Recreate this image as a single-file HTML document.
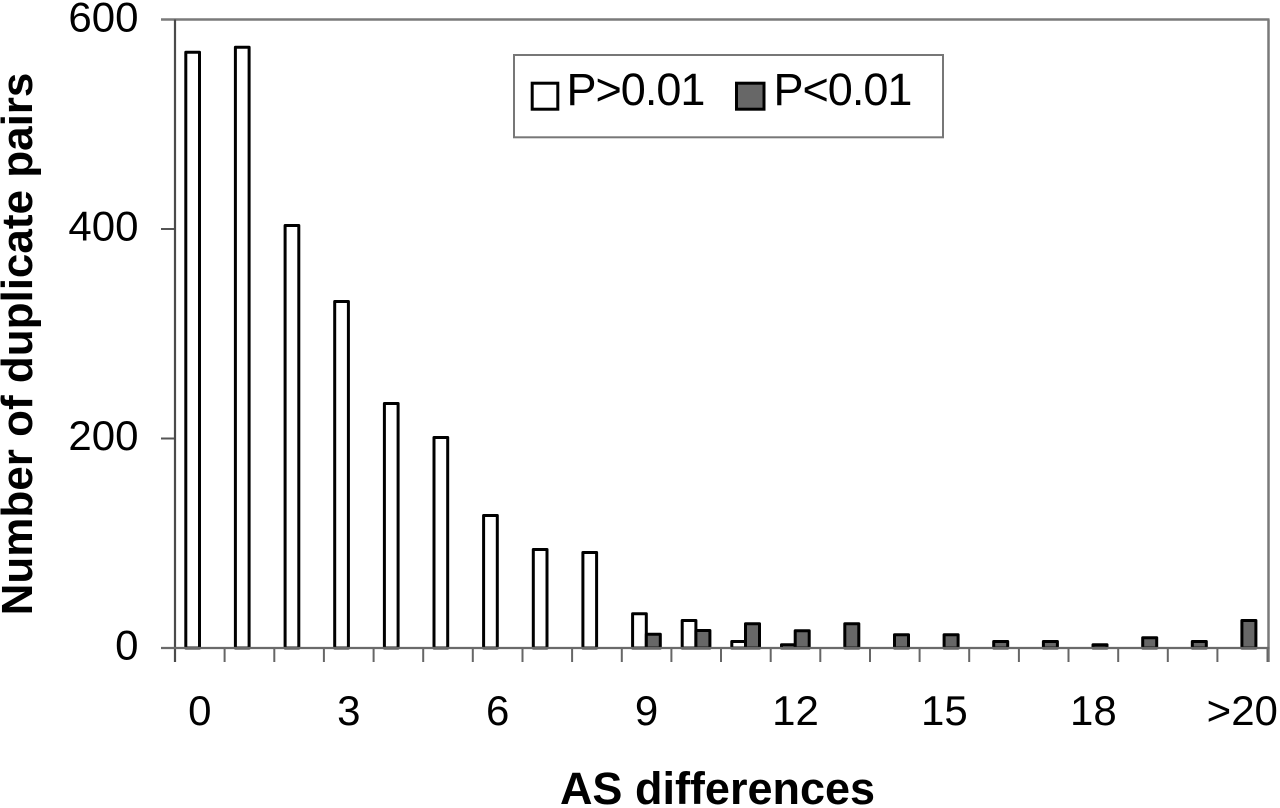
<!DOCTYPE html>
<html>
<head>
<meta charset="utf-8">
<style>
  html, body { margin: 0; padding: 0; background: #ffffff; }
  svg { display: block; }
  text { font-family: "Liberation Sans", Arial, sans-serif; fill: #000; }
</style>
</head>
<body>
<svg width="1280" height="808" viewBox="0 0 1280 808" xmlns="http://www.w3.org/2000/svg">
  <rect x="0" y="0" width="1280" height="808" fill="#ffffff"/>

  <!-- plot frame: top & right -->
  <line x1="161" y1="19.5" x2="1269.5" y2="19.5" stroke="#7a7a7a" stroke-width="2.5"/>
  <line x1="1268.5" y1="19.5" x2="1268.5" y2="662" stroke="#7a7a7a" stroke-width="2.5"/>

  <!-- y ticks -->
  <g stroke="#555" stroke-width="2">
    <line x1="161" y1="229" x2="175" y2="229"/>
    <line x1="161" y1="438.5" x2="175" y2="438.5"/>
    <line x1="161" y1="648" x2="175" y2="648"/>
  </g>

  <!-- x ticks -->
  <g stroke="#666" stroke-width="2">
    <line x1="175" y1="648" x2="175" y2="662"/>
    <line x1="224.6" y1="648" x2="224.6" y2="662"/>
    <line x1="274.3" y1="648" x2="274.3" y2="662"/>
    <line x1="323.9" y1="648" x2="323.9" y2="662"/>
    <line x1="373.6" y1="648" x2="373.6" y2="662"/>
    <line x1="423.2" y1="648" x2="423.2" y2="662"/>
    <line x1="472.8" y1="648" x2="472.8" y2="662"/>
    <line x1="522.5" y1="648" x2="522.5" y2="662"/>
    <line x1="572.1" y1="648" x2="572.1" y2="662"/>
    <line x1="621.8" y1="648" x2="621.8" y2="662"/>
    <line x1="671.4" y1="648" x2="671.4" y2="662"/>
    <line x1="721" y1="648" x2="721" y2="662"/>
    <line x1="770.7" y1="648" x2="770.7" y2="662"/>
    <line x1="820.3" y1="648" x2="820.3" y2="662"/>
    <line x1="870" y1="648" x2="870" y2="662"/>
    <line x1="919.6" y1="648" x2="919.6" y2="662"/>
    <line x1="969.2" y1="648" x2="969.2" y2="662"/>
    <line x1="1018.9" y1="648" x2="1018.9" y2="662"/>
    <line x1="1068.5" y1="648" x2="1068.5" y2="662"/>
    <line x1="1118.2" y1="648" x2="1118.2" y2="662"/>
    <line x1="1167.8" y1="648" x2="1167.8" y2="662"/>
    <line x1="1217.4" y1="648" x2="1217.4" y2="662"/>
    <line x1="1267.5" y1="648" x2="1267.5" y2="662"/>
  </g>

  <!-- bars: white (P>0.01) -->
  <g fill="#ffffff" stroke="#000" stroke-width="3" stroke-linejoin="round">
    <rect x="185.8" y="52.2" width="13.7" height="595.8"/>
    <rect x="235.4" y="47.2" width="13.7" height="600.8"/>
    <rect x="285.1" y="225.5" width="13.7" height="422.5"/>
    <rect x="334.7" y="301.5" width="13.7" height="346.5"/>
    <rect x="384.4" y="403.5" width="13.7" height="244.5"/>
    <rect x="434" y="437.5" width="13.7" height="210.5"/>
    <rect x="483.6" y="515.5" width="13.7" height="132.5"/>
    <rect x="533.3" y="549.5" width="13.7" height="98.5"/>
    <rect x="582.9" y="552.5" width="13.7" height="95.5"/>
    <rect x="632.6" y="613.8" width="13.7" height="34.2"/>
    <rect x="682.2" y="620.5" width="13.7" height="27.5"/>
    <rect x="731.8" y="641.5" width="13.7" height="6.5"/>
    <rect x="781.5" y="644.8" width="13.7" height="3.2"/>
  </g>

  <!-- bars: gray (P<0.01) -->
  <g fill="#676767" stroke="#000" stroke-width="3" stroke-linejoin="round">
    <rect x="646.3" y="634.2" width="14" height="13.8"/>
    <rect x="695.9" y="630.5" width="14" height="17.5"/>
    <rect x="745.5" y="623.8" width="14" height="24.2"/>
    <rect x="795.2" y="630.8" width="14" height="17.2"/>
    <rect x="844.8" y="623.8" width="14" height="24.2"/>
    <rect x="894.5" y="634.8" width="14" height="13.2"/>
    <rect x="944.1" y="634.8" width="14" height="13.2"/>
    <rect x="993.7" y="641.5" width="14" height="6.5"/>
    <rect x="1043.4" y="641.5" width="14" height="6.5"/>
    <rect x="1093" y="644.8" width="14" height="3.2"/>
    <rect x="1142.7" y="637.8" width="14" height="10.2"/>
    <rect x="1192.3" y="641.5" width="14" height="6.5"/>
    <rect x="1241.9" y="620.5" width="14" height="27.5"/>
  </g>

  <!-- left & bottom axes (drawn over bars) -->
  <line x1="175" y1="19.5" x2="175" y2="662" stroke="#4a4a4a" stroke-width="2.2"/>
  <line x1="161" y1="648" x2="1269.5" y2="648" stroke="#6a6a6a" stroke-width="2.2"/>

  <!-- y tick labels -->
  <g font-size="42" text-anchor="end">
    <text x="138.5" y="31.7">600</text>
    <text x="138.5" y="240.7">400</text>
    <text x="138.5" y="450">200</text>
    <text x="138.5" y="659.7">0</text>
  </g>

  <!-- x tick labels -->
  <g font-size="42" text-anchor="middle">
    <text x="199.8" y="725">0</text>
    <text x="348.8" y="725">3</text>
    <text x="497.7" y="725">6</text>
    <text x="646.6" y="725">9</text>
    <text x="795.5" y="725">12</text>
    <text x="944.4" y="725">15</text>
    <text x="1093.4" y="725">18</text>
    <text x="1242.3" y="725">&gt;20</text>
  </g>

  <!-- axis titles -->
  <text x="717.5" y="804" font-size="45" font-weight="bold" text-anchor="middle">AS differences</text>
  <text transform="translate(32,344) rotate(-90)" x="0" y="0" font-size="44" font-weight="bold" text-anchor="middle">Number of duplicate pairs</text>

  <!-- legend -->
  <rect x="514" y="55" width="429" height="82.3" fill="#ffffff" stroke="#777" stroke-width="2"/>
  <rect x="532.2" y="83.2" width="25.6" height="26" fill="#ffffff" stroke="#000" stroke-width="3"/>
  <text x="566.5" y="105" font-size="45" letter-spacing="-1">P&gt;0.01</text>
  <rect x="736.5" y="83.2" width="27.5" height="26" fill="#676767" stroke="#000" stroke-width="3"/>
  <text x="773.5" y="105" font-size="45" letter-spacing="-1">P&lt;0.01</text>
</svg>
</body>
</html>
